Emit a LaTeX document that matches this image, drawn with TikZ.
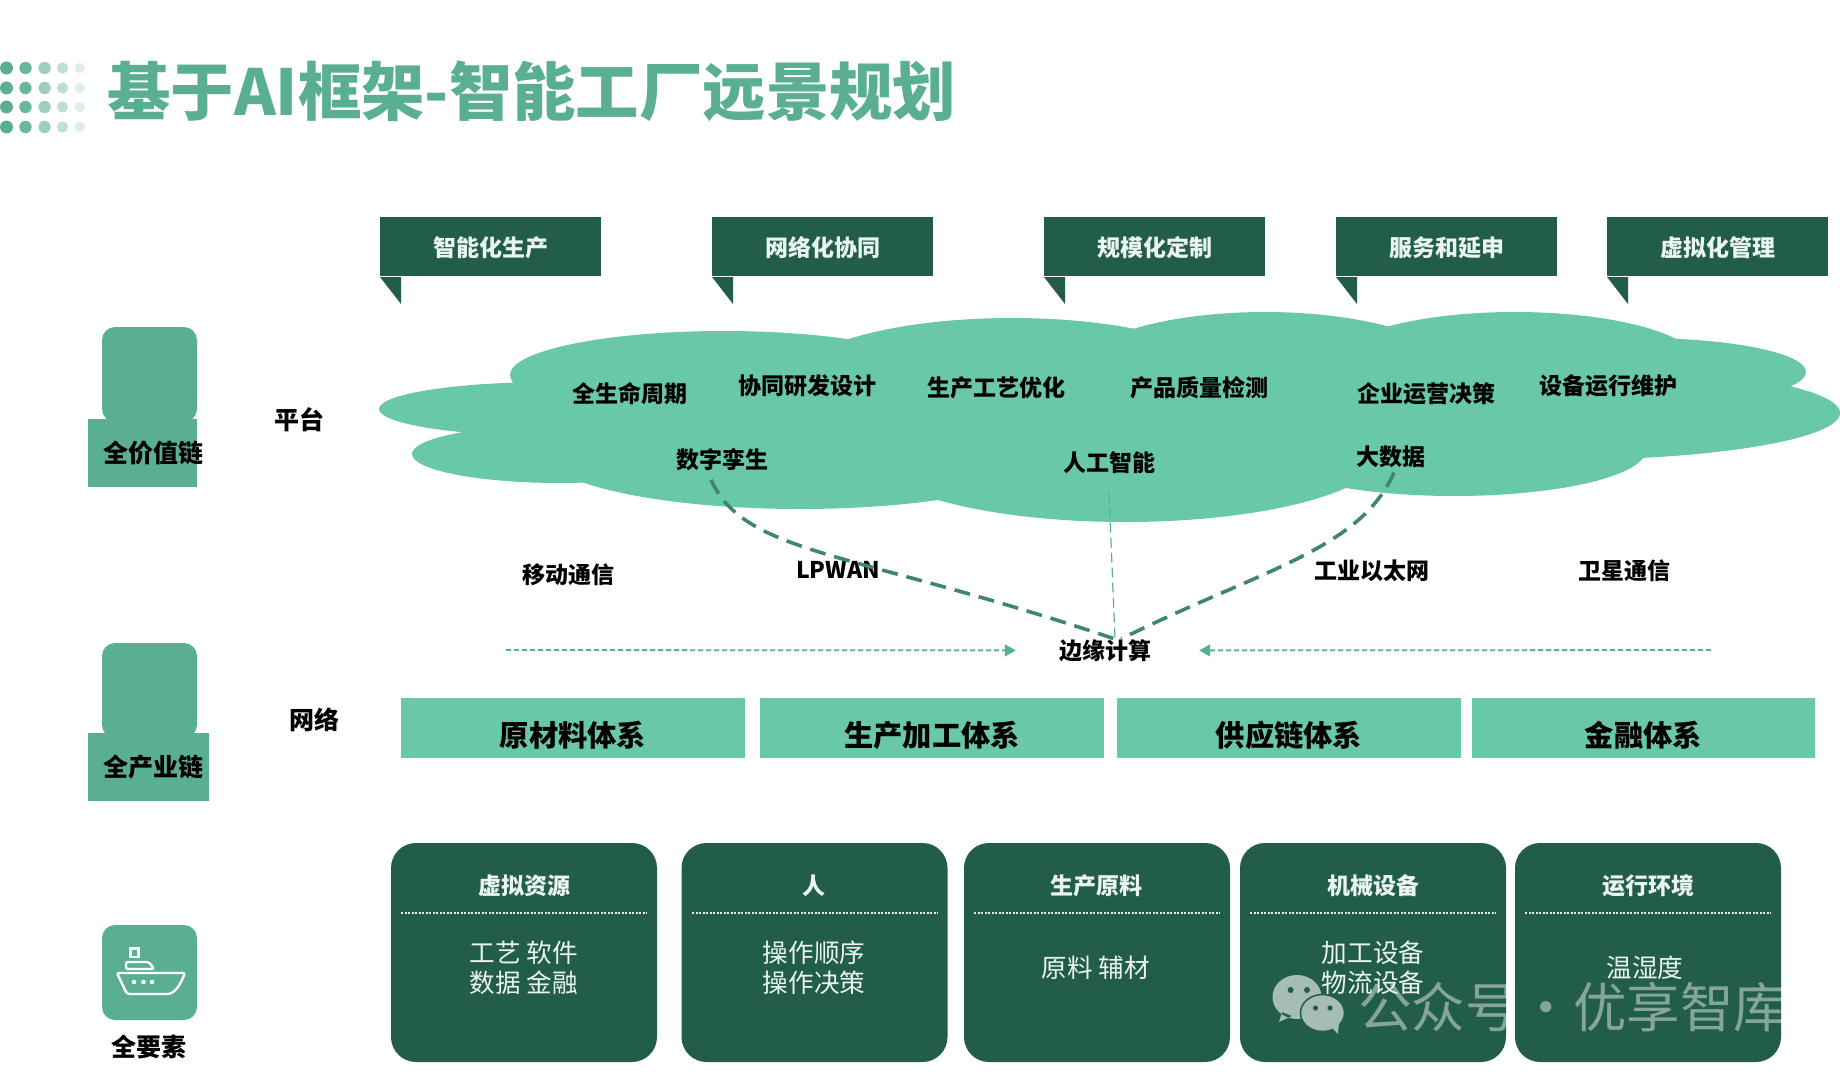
\documentclass[tikz,border=0pt]{standalone}
\usepackage{fontspec}
\setmainfont{Noto Sans CJK SC}
\usepackage{xcolor}
\usetikzlibrary{arrows.meta,positioning,calc}
\definecolor{deepgreen}{HTML}{225C4A}
\definecolor{midgreen}{HTML}{5AAF93}
\definecolor{cloudgreen}{HTML}{69C8AA}
\definecolor{linkgreen}{HTML}{3F8570}
\definecolor{cardtext}{HTML}{EAF4F0}
\definecolor{markgray}{HTML}{A5BDB4}
\newcommand{\fs}[1]{\fontsize{#1}{#1}\selectfont}
\tikzset{lbl/.style={inner sep=0pt,font=\fs{23}\bfseries,text=black,yshift=-0.4pt},
  biglbl/.style={lbl,font=\fs{25}\bfseries},
  flagbox/.style={fill=deepgreen,minimum width=221pt,minimum height=59pt,inner sep=0pt,text=cardtext,font=\fs{23}\bfseries,text height=22pt,text depth=2.8pt},
  bandbox/.style={fill=cloudgreen,minimum height=60pt,inner sep=0pt,text=black,font=\fs{29.3}\bfseries,text height=36pt,text depth=0pt},
  cardbox/.style={fill=deepgreen,rounded corners=25pt,minimum width=266pt,minimum height=219pt,inner sep=0pt},
  cardhead/.style={inner sep=0pt,text=cardtext,font=\fs{23}\bfseries,yshift=-1pt},
  cardbody/.style={inner sep=0pt,text=cardtext,font=\fs{25.6},align=center,yshift=-0.5pt},
  iconbox/.style={fill=midgreen,rounded corners=13pt,minimum width=95pt,inner sep=0pt},
  tagbox/.style={fill=midgreen,inner sep=0pt},
  rule/.style={cardtext,line width=2pt,dash pattern=on 2pt off 1.5pt},
  link/.style={linkgreen,line width=3.6pt,dash pattern=on 16pt off 9pt},
  thinlink/.style={midgreen,line width=1.2pt,dash pattern=on 10pt off 5pt},
  netarr/.style={midgreen,line width=1.8pt,dash pattern=on 5pt off 3pt,-{Triangle[length=11pt,width=12pt,fill=midgreen]}},
  shipline/.style={white,line width=2.4pt,line join=round,rounded corners=2pt}}
\begin{document}
\begin{tikzpicture}[x=1pt,y=-1pt]
\useasboundingbox (0,0) rectangle (1840,1081);
% title
\foreach \cx/\rr/\op in {6.5/6.5/1,25.5/6.2/.9,44.6/6.2/.6,62.5/5.6/.4,79.7/5.2/.2}
  \foreach \cy in {68,88,107,127}
    \fill[midgreen,opacity=\op] (\cx,\cy) circle (\rr);
\node[inner sep=0pt,anchor=west,text=midgreen,font=\fs{63.4}\bfseries] (title) at (107,91){基于AI框架-智能工厂远景规划};
% flags
\node[flagbox] (flag1) at (490.5,246.5){智能化生产};
\node[flagbox] (flag2) at (822.5,246.5){网络化协同};
\node[flagbox] (flag3) at (1154.5,246.5){规模化定制};
\node[flagbox] (flag4) at (1446.5,246.5){服务和延申};
\node[flagbox] (flag5) at (1717.5,246.5){虚拟化管理};
\fill[deepgreen] (380,277)--(401,277)--(401,304)--cycle;
\fill[deepgreen] (712,277)--(733,277)--(733,304)--cycle;
\fill[deepgreen] (1044,277)--(1065,277)--(1065,304)--cycle;
\fill[deepgreen] (1336,277)--(1357,277)--(1357,304)--cycle;
\fill[deepgreen] (1607,277)--(1628,277)--(1628,304)--cycle;
% cloud
\foreach \ex/\ey/\ea/\eb in {550/409/171/27,560/454/148/29,724/375/214/44,1012/382/220/64,1265/380/200/68,
  1515/365/185/53,1640/372/166/34,1560/413/280/47,1454/450/192/46,1125/450/260/72,800/450/260/59}
  \fill[cloudgreen] (\ex,\ey) ellipse (\ea pt and \eb pt);
\fill[cloudgreen] (600,370) rectangle (1600,450);
\node[lbl] (life) at (630,393){全生命周期};
\node[lbl] (rnd) at (807,385){协同研发设计};
\node[lbl] (craft) at (996,387){生产工艺优化};
\node[lbl] (qc) at (1199,387){产品质量检测};
\node[lbl] (biz) at (1426,393){企业运营决策};
\node[lbl] (maint) at (1608,385){设备运行维护};
\node[lbl] (twin) at (722,459){数字孪生};
\node[lbl] (ai) at (1109,462){人工智能};
\node[lbl] (bigdata) at (1391,456){大数据};
% network
\node[lbl] (mobile) at (568,574){移动通信};
\node[lbl] (lpwan) at (838,570){LPWAN};
\node[lbl] (ether) at (1372,570){工业以太网};
\node[lbl] (sat) at (1624,570){卫星通信};
\node[lbl] (edge) at (1105,650){边缘计算};
\coordinate (netL) at (506,650); \coordinate (netR) at (1711,650);
\draw[netarr] (netL)--([xshift=-43pt]edge.west);
\draw[netarr] (netR)--([xshift=48pt]edge.east);
\draw[link] ([xshift=-11pt,yshift=-9pt]twin.south) .. controls (745,555) and (850,550) .. ([xshift=10pt]edge.north);
\draw[link] ([xshift=3pt,yshift=-5pt]bigdata.south) .. controls (1360,550) and (1260,570) .. ([xshift=16pt]edge.north);
\draw[thinlink] ([yshift=-19pt]ai.south)--([xshift=10pt]edge.north);
% bands
\node[bandbox,minimum width=344pt] (band1) at (573,728){原材料体系};
\node[bandbox,minimum width=344pt] (band2) at (932,728){生产加工体系};
\node[bandbox,minimum width=344pt] (band3) at (1289,728){供应链体系};
\node[bandbox,minimum width=343pt] (band4) at (1643.5,728){金融体系};
% left column
\node[iconbox,minimum height=95pt] (icon1) at (149.5,374.5){};
\node[tagbox,minimum width=109pt,minimum height=68pt] (tag1) at (142.5,453){};
\node[biglbl] (chain1) at (153.5,453){全价值链};
\node[iconbox,minimum height=95pt] (icon2) at (149.5,690.5){};
\node[tagbox,minimum width=121pt,minimum height=68pt] (tag2) at (148.5,767){};
\node[biglbl] (chain2) at (153.5,767){全产业链};
\node[iconbox,minimum height=95pt] (icon3) at (149.5,972.5){};
\node[biglbl] (chain3) at (149,1047){全要素};
\node[biglbl] (platform) at (299,419){平台};
\node[biglbl] (network) at (314,719){网络};
\draw[shipline] (117,973)--(185,973)..controls (180,985) and (175,994) .. (165,994)--(127,994)--cycle;
\draw[shipline] (126,969)--(126,962)--(149,962)--(154,969)--cycle;
\draw[white,line width=2.2pt] (130.5,948.5) rectangle (138.5,957);
\fill[white] (134,982) circle (2.3) (143.5,982) circle (2.3) (152,982) circle (2.3);
% cards
\node[cardbox] (card1) at (524,952.5){};
\node[cardhead] (head1) at (524,885){虚拟资源};
\draw[rule] (401,913)--(647,913);
\node[cardbody] (body1) at (524,967){工艺 软件\\[4.5pt]数据 金融};
\node[cardbox] (card2) at (814.5,952.5){};
\node[cardhead] (head2) at (814,885){人};
\draw[rule] (692,913)--(938,913);
\node[cardbody] (body2) at (814,967){操作顺序\\[4.5pt]操作决策};
\node[cardbox] (card3) at (1097,952.5){};
\node[cardhead] (head3) at (1096,885){生产原料};
\draw[rule] (974,913)--(1220,913);
\node[cardbody] (body3) at (1096,967){原料 辅材};
\node[cardbox] (card4) at (1373,952.5){};
\node[cardhead] (head4) at (1373,885){机械设备};
\draw[rule] (1250,913)--(1496,913);
\node[cardbody] (body4) at (1373,967){加工设备\\[4.5pt]物流设备};
\node[cardbox] (card5) at (1648,952.5){};
\node[cardhead] (head5) at (1648,885){运行环境};
\draw[rule] (1525,913)--(1771,913);
\node[cardbody] (body5) at (1645,967){温湿度};
% watermark
\fill[markgray] (1297,997) ellipse (24.5 and 22) (1282,1012)--(1279,1022)--(1292,1016)--cycle;
\fill[markgray,draw=deepgreen,line width=1.5pt] (1322.5,1013) ellipse (22 and 18.5);
\fill[markgray] (1330,1026)--(1338,1034)--(1339,1022)--cycle;
\fill[deepgreen] (1290.6,990) circle (3) (1307,990) circle (3) (1315.5,1008) circle (2.6) (1330,1008) circle (2.6);
\node[inner sep=0pt,anchor=west,text=white,opacity=.45,font=\fs{53.5}] (mark) at (1358,1007){公众号\hspace{0.5pt}·\hspace{0.5pt}优享智库};
\end{tikzpicture}
\end{document}
